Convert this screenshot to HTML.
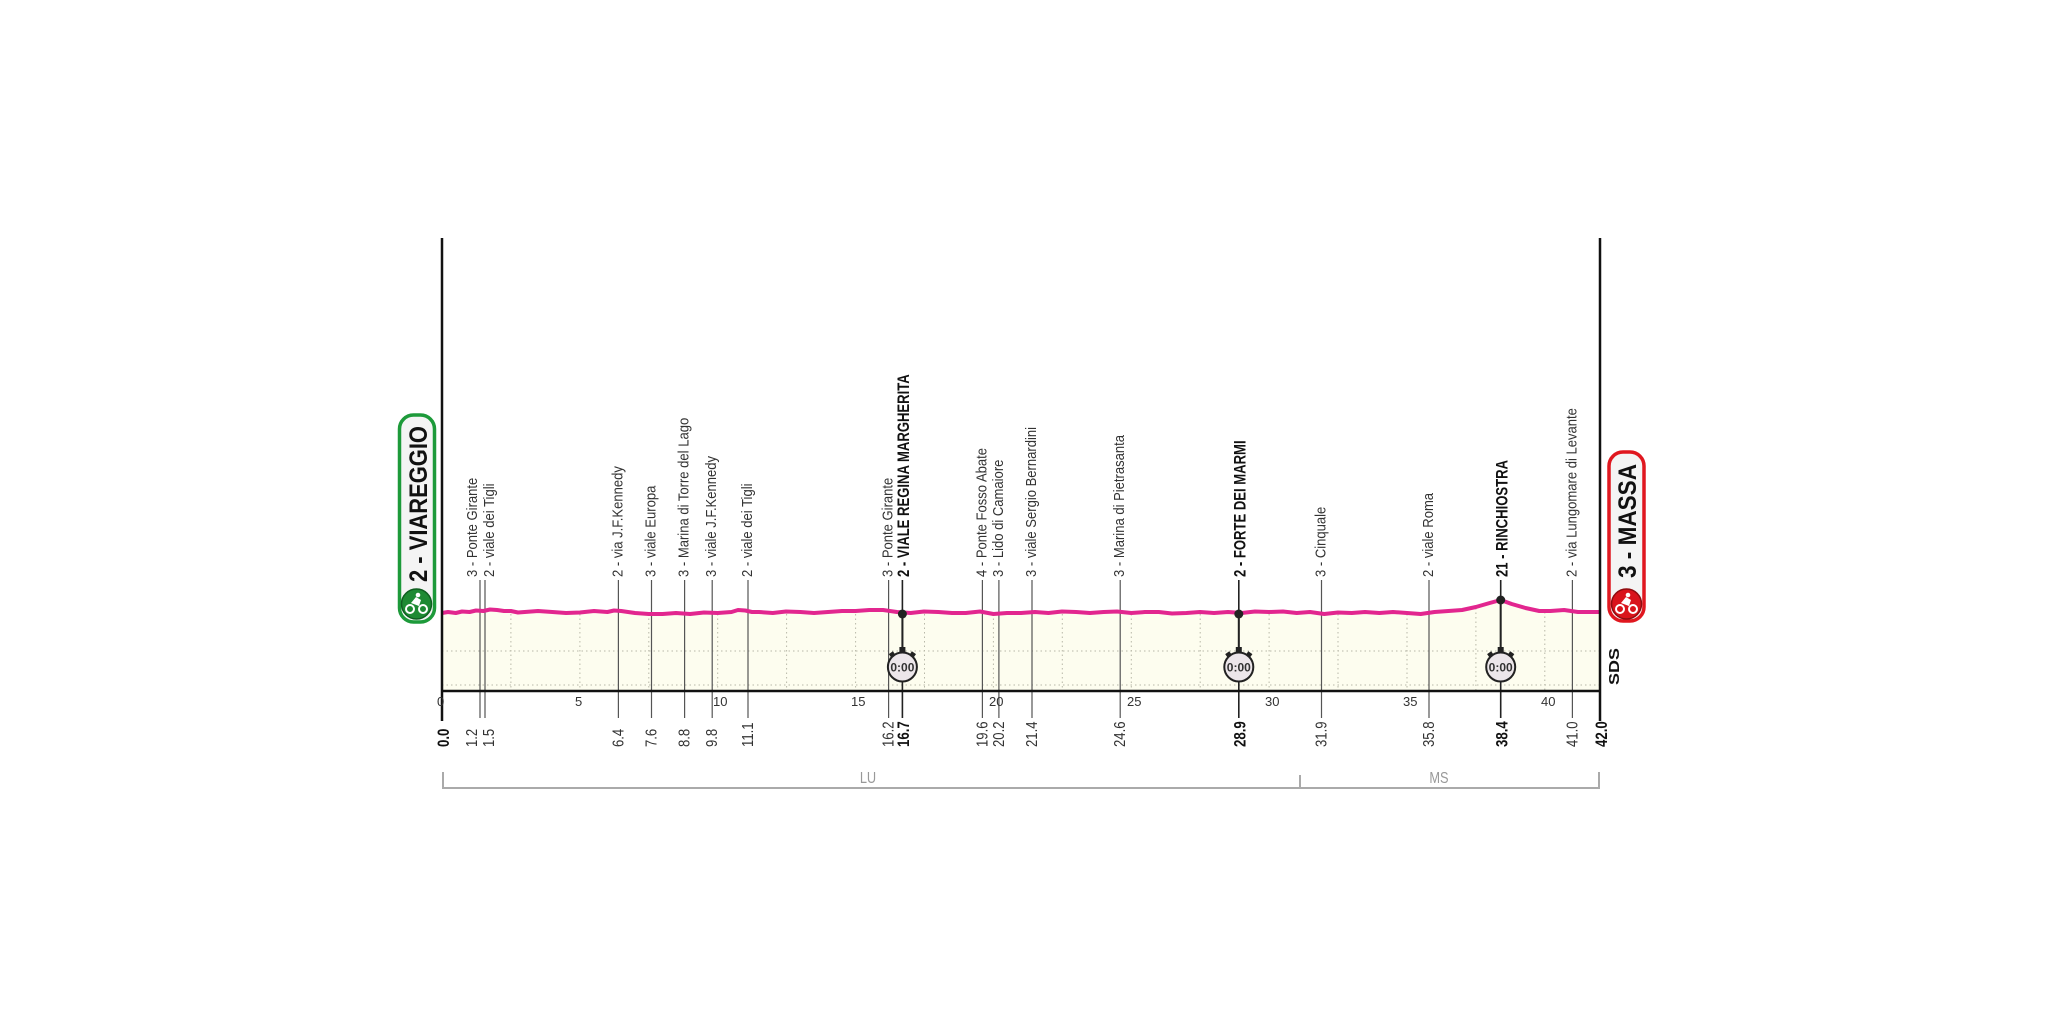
<!DOCTYPE html>
<html><head><meta charset="utf-8"><style>
html,body{margin:0;padding:0;background:#fff;}
svg{display:block;}
text{font-family:"Liberation Sans",sans-serif;}
</style></head><body>
<svg width="2048" height="1024" viewBox="0 0 2048 1024" xmlns="http://www.w3.org/2000/svg">
<polygon fill="#fdfdef" points="442,691 442,613 455.8,613 469.6,612 483.4,611 497.1,610 510.9,611 524.7,612 552.3,612 579.9,612.5 607.4,612 621.2,611 635,613 648.8,614 662.6,614 690.1,614 717.7,613 731.5,612 745.3,610.5 759,612 772.8,613 800.4,612 828,612 855.6,611 869.3,610 883.1,610 896.9,612 910.7,613 938.3,612 965.8,613 993.4,614 1021,613 1048.5,613 1076.1,612 1103.7,612 1131.3,613 1158.8,612 1186.4,613 1214,613 1241.5,613 1269.1,612 1296.7,613 1324.2,614 1351.8,613 1379.4,613 1407,613 1420.7,614 1434.5,612 1448.3,611 1462.1,610 1475.9,607 1489.7,603 1500.7,600 1511.7,604 1525.5,608 1539.3,611 1550.3,611 1564.1,610 1577.9,612 1600,612 1600,691"/>
<g stroke="#b8b8a8" stroke-width="1" stroke-dasharray="1.5,3">
<line x1="442" y1="651" x2="1600" y2="651"/>
<line x1="442" y1="685" x2="1600" y2="685"/>
<line x1="510.9" y1="614" x2="510.9" y2="691"/><line x1="579.9" y1="614" x2="579.9" y2="691"/>
<line x1="648.8" y1="614" x2="648.8" y2="691"/><line x1="717.7" y1="614" x2="717.7" y2="691"/>
<line x1="786.6" y1="614" x2="786.6" y2="691"/><line x1="855.6" y1="614" x2="855.6" y2="691"/>
<line x1="924.5" y1="614" x2="924.5" y2="691"/><line x1="993.4" y1="614" x2="993.4" y2="691"/>
<line x1="1062.3" y1="614" x2="1062.3" y2="691"/><line x1="1131.3" y1="614" x2="1131.3" y2="691"/>
<line x1="1200.2" y1="614" x2="1200.2" y2="691"/><line x1="1269.1" y1="614" x2="1269.1" y2="691"/>
<line x1="1338" y1="614" x2="1338" y2="691"/><line x1="1407" y1="614" x2="1407" y2="691"/>
<line x1="1475.9" y1="608" x2="1475.9" y2="691"/><line x1="1544.8" y1="612" x2="1544.8" y2="691"/>
</g>
<g stroke="#555" stroke-width="1.2">
<line x1="480" y1="580" x2="480" y2="718"/><line x1="485" y1="580" x2="485" y2="718"/>
<line x1="618.4" y1="580" x2="618.4" y2="718"/><line x1="651.5" y1="580" x2="651.5" y2="718"/>
<line x1="684.6" y1="580" x2="684.6" y2="718"/><line x1="712.2" y1="580" x2="712.2" y2="718"/>
<line x1="748" y1="580" x2="748" y2="718"/><line x1="888.6" y1="580" x2="888.6" y2="718"/>
<line x1="982.4" y1="580" x2="982.4" y2="718"/><line x1="998.9" y1="580" x2="998.9" y2="718"/>
<line x1="1032" y1="580" x2="1032" y2="718"/><line x1="1120.2" y1="580" x2="1120.2" y2="718"/>
<line x1="1321.5" y1="580" x2="1321.5" y2="718"/><line x1="1429" y1="580" x2="1429" y2="718"/>
<line x1="1572.4" y1="580" x2="1572.4" y2="718"/>
</g>
<g stroke="#222" stroke-width="1.6">
<line x1="902.4" y1="580" x2="902.4" y2="718"/>
<line x1="1238.8" y1="580" x2="1238.8" y2="718"/>
<line x1="1500.7" y1="580" x2="1500.7" y2="718"/>
</g>
<polyline fill="none" stroke="#e2268f" stroke-width="4" stroke-linejoin="round" points="442,613 448,612 455.8,613 462,611.5 469.6,612 476,610.5 483.4,611 490,609.5 497.1,610 504,611 510.9,611 518,612.5 524.7,612 538,611 552.3,612 566,613 579.9,612.5 594,611 607.4,612 614,610.5 621.2,611 628,612 635,613 648.8,614 662.6,614 676,613 690.1,614 704,612.5 717.7,613 731.5,612 738,610 745.3,610.5 752,612 759,612 772.8,613 786,611.5 800.4,612 814,613 828,612 842,611 855.6,611 869.3,610 883.1,610 896.9,612 910.7,613 924,611.5 938.3,612 952,613 965.8,613 980,611.5 993.4,614 1007,613 1021,613 1035,612 1048.5,613 1062,611.5 1076.1,612 1090,613 1103.7,612 1117,611.5 1131.3,613 1145,612 1158.8,612 1172,613.5 1186.4,613 1200,612 1214,613 1228,612 1241.5,613 1255,611.5 1269.1,612 1283,611.5 1296.7,613 1310,612 1324.2,614 1338,612.5 1351.8,613 1365,612 1379.4,613 1393,612 1407,613 1420.7,614 1434.5,612 1448.3,611 1462.1,610 1475.9,607 1489.7,603 1500.7,600 1511.7,604 1525.5,608 1539.3,611 1550.3,611 1564.1,610 1577.9,612 1600,612"/>
<line x1="442" y1="238" x2="442" y2="721" stroke="#111" stroke-width="2.5"/>
<line x1="1600" y1="238" x2="1600" y2="721" stroke="#111" stroke-width="2.5"/>
<line x1="441" y1="691" x2="1601" y2="691" stroke="#111" stroke-width="2.5"/>
<g font-size="13" fill="#333">
<text x="437" y="706">0</text>
<text x="575" y="706">5</text>
<text x="713" y="706">10</text>
<text x="851" y="706">15</text>
<text x="989" y="706">20</text>
<text x="1127" y="706">25</text>
<text x="1265" y="706">30</text>
<text x="1403" y="706">35</text>
<text x="1541" y="706">40</text>
</g>
<g font-size="15" fill="#333">
<text transform="translate(477,577) rotate(-90) scale(0.87,1)">3 - Ponte Girante</text>
<text transform="translate(494,577) rotate(-90) scale(0.87,1)">2 - viale dei Tigli</text>
<text transform="translate(622.4,577) rotate(-90) scale(0.87,1)">2 - via J.F.Kennedy</text>
<text transform="translate(655.5,577) rotate(-90) scale(0.87,1)">3 - viale Europa</text>
<text transform="translate(688.6,577) rotate(-90) scale(0.87,1)">3 - Marina di Torre del Lago</text>
<text transform="translate(716.2,577) rotate(-90) scale(0.87,1)">3 - viale J.F.Kennedy</text>
<text transform="translate(752,577) rotate(-90) scale(0.87,1)">2 - viale dei Tigli</text>
<text transform="translate(892.6,577) rotate(-90) scale(0.87,1)">3 - Ponte Girante</text>
<text transform="translate(986.4,577) rotate(-90) scale(0.87,1)">4 - Ponte Fosso Abate</text>
<text transform="translate(1002.9,577) rotate(-90) scale(0.87,1)">3 - Lido di Camaiore</text>
<text transform="translate(1036,577) rotate(-90) scale(0.87,1)">3 - viale Sergio Bernardini</text>
<text transform="translate(1124.2,577) rotate(-90) scale(0.87,1)">3 - Marina di Pietrasanta</text>
<text transform="translate(1325.5,577) rotate(-90) scale(0.87,1)">3 - Cinquale</text>
<text transform="translate(1433,577) rotate(-90) scale(0.87,1)">2 - viale Roma</text>
<text transform="translate(1576.4,577) rotate(-90) scale(0.87,1)">2 - via Lungomare di Levante</text>
</g>
<g font-size="17" font-weight="bold" fill="#111">
<text transform="translate(909,577) rotate(-90) scale(0.77,1)">2 - VIALE REGINA MARGHERITA</text>
<text transform="translate(1245.5,577) rotate(-90) scale(0.77,1)">2 - FORTE DEI MARMI</text>
<text transform="translate(1507.5,577) rotate(-90) scale(0.77,1)">21 - RINCHIOSTRA</text>
</g>
<g font-size="16" fill="#333">
<text transform="translate(477,747) rotate(-90) scale(0.82,1)">1.2</text>
<text transform="translate(494,747) rotate(-90) scale(0.82,1)">1.5</text>
<text transform="translate(623.4,747) rotate(-90) scale(0.82,1)">6.4</text>
<text transform="translate(656.5,747) rotate(-90) scale(0.82,1)">7.6</text>
<text transform="translate(689.6,747) rotate(-90) scale(0.82,1)">8.8</text>
<text transform="translate(717.2,747) rotate(-90) scale(0.82,1)">9.8</text>
<text transform="translate(753,747) rotate(-90) scale(0.82,1)">11.1</text>
<text transform="translate(893.6,747) rotate(-90) scale(0.82,1)">16.2</text>
<text transform="translate(987.4,747) rotate(-90) scale(0.82,1)">19.6</text>
<text transform="translate(1003.9,747) rotate(-90) scale(0.82,1)">20.2</text>
<text transform="translate(1037,747) rotate(-90) scale(0.82,1)">21.4</text>
<text transform="translate(1125.2,747) rotate(-90) scale(0.82,1)">24.6</text>
<text transform="translate(1326.5,747) rotate(-90) scale(0.82,1)">31.9</text>
<text transform="translate(1434,747) rotate(-90) scale(0.82,1)">35.8</text>
<text transform="translate(1577.4,747) rotate(-90) scale(0.82,1)">41.0</text>
</g>
<g font-size="17" font-weight="bold" fill="#111">
<text transform="translate(449,747) rotate(-90) scale(0.78,1)">0.0</text>
<text transform="translate(909,747) rotate(-90) scale(0.78,1)">16.7</text>
<text transform="translate(1245.5,747) rotate(-90) scale(0.78,1)">28.9</text>
<text transform="translate(1507.5,747) rotate(-90) scale(0.78,1)">38.4</text>
<text transform="translate(1607,747) rotate(-90) scale(0.78,1)">42.0</text>
</g>
<g>
<g transform="translate(902.4,0)">
<line x1="0" y1="614" x2="0" y2="652" stroke="#222" stroke-width="2"/>
<circle cx="0" cy="614" r="4.5" fill="#222"/>
<rect x="-3" y="647" width="6" height="5" fill="#222"/>
<rect x="-13" y="652" width="5" height="4" fill="#222" transform="rotate(-35 -10 654)"/>
<rect x="8" y="652" width="5" height="4" fill="#222" transform="rotate(35 10 654)"/>
<circle cx="0" cy="667" r="14.5" fill="#ece6ea" stroke="#222" stroke-width="2"/>
<text x="0" y="671.5" font-size="12" font-weight="bold" fill="#333" text-anchor="middle">0:00</text>
</g>
<g transform="translate(1238.8,0)">
<line x1="0" y1="614" x2="0" y2="652" stroke="#222" stroke-width="2"/>
<circle cx="0" cy="614" r="4.5" fill="#222"/>
<rect x="-3" y="647" width="6" height="5" fill="#222"/>
<rect x="-13" y="652" width="5" height="4" fill="#222" transform="rotate(-35 -10 654)"/>
<rect x="8" y="652" width="5" height="4" fill="#222" transform="rotate(35 10 654)"/>
<circle cx="0" cy="667" r="14.5" fill="#ece6ea" stroke="#222" stroke-width="2"/>
<text x="0" y="671.5" font-size="12" font-weight="bold" fill="#333" text-anchor="middle">0:00</text>
</g>
<g transform="translate(1500.7,0)">
<line x1="0" y1="600" x2="0" y2="652" stroke="#222" stroke-width="2"/>
<circle cx="0" cy="600" r="4.5" fill="#222"/>
<rect x="-3" y="647" width="6" height="5" fill="#222"/>
<rect x="-13" y="652" width="5" height="4" fill="#222" transform="rotate(-35 -10 654)"/>
<rect x="8" y="652" width="5" height="4" fill="#222" transform="rotate(35 10 654)"/>
<circle cx="0" cy="667" r="14.5" fill="#ece6ea" stroke="#222" stroke-width="2"/>
<text x="0" y="671.5" font-size="12" font-weight="bold" fill="#333" text-anchor="middle">0:00</text>
</g>
</g>
<rect x="399.5" y="415" width="35" height="207" rx="14" fill="#f4f4f4" stroke="#1d9a3a" stroke-width="3.5"/>
<text transform="translate(427,582) rotate(-90)" font-size="25" font-weight="bold" fill="#111" textLength="156" lengthAdjust="spacingAndGlyphs">2 - VIAREGGIO</text>
<circle cx="416.5" cy="604" r="15" fill="#1e8a33" stroke="#0f5e20" stroke-width="1.5"/>
<circle cx="410" cy="609" r="4" fill="none" stroke="#fff" stroke-width="2"/>
<circle cx="423" cy="609" r="4" fill="none" stroke="#fff" stroke-width="2"/>
<path d="M411,603 L416,597 L421,600 L419,606 Z" fill="#fff"/>
<circle cx="418" cy="595" r="2.3" fill="#fff"/>
<rect x="1609" y="452" width="35" height="169" rx="14" fill="#f4f4f4" stroke="#e0171f" stroke-width="3.5"/>
<text transform="translate(1636,578) rotate(-90)" font-size="25" font-weight="bold" fill="#111" textLength="114" lengthAdjust="spacingAndGlyphs">3 - MASSA</text>
<circle cx="1626.5" cy="604" r="15" fill="#d9141c" stroke="#8e0c10" stroke-width="1.5"/>
<circle cx="1620" cy="609" r="4" fill="none" stroke="#fff" stroke-width="2"/>
<circle cx="1633" cy="609" r="4" fill="none" stroke="#fff" stroke-width="2"/>
<path d="M1621,603 L1626,597 L1631,600 L1629,606 Z" fill="#fff"/>
<circle cx="1628" cy="595" r="2.3" fill="#fff"/>
<text transform="translate(1619,685) rotate(-90)" font-size="15" font-weight="bold" fill="#111" textLength="37" lengthAdjust="spacingAndGlyphs">SDS</text>
<g stroke="#aaa" stroke-width="2" fill="none">
<line x1="443" y1="788" x2="1600" y2="788"/>
<line x1="443" y1="772" x2="443" y2="789"/>
<line x1="1300" y1="775" x2="1300" y2="789"/>
<line x1="1599" y1="772" x2="1599" y2="789"/>
</g>
<text x="868" y="783" font-size="16" fill="#999" text-anchor="middle" transform="translate(868,0) scale(0.8,1) translate(-868,0)">LU</text>
<text x="1439" y="783" font-size="16" fill="#999" text-anchor="middle" transform="translate(1439,0) scale(0.8,1) translate(-1439,0)">MS</text>
</svg>
</body></html>
